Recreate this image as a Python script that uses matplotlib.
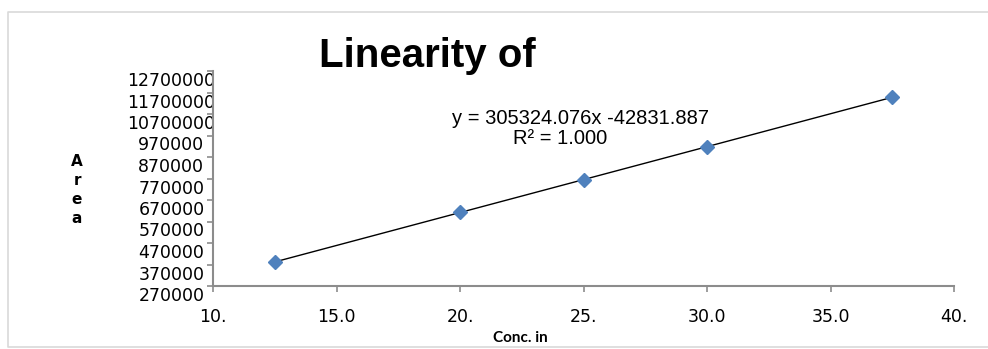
import matplotlib
matplotlib.use("Agg")
import matplotlib.pyplot as plt
import matplotlib.transforms as mtransforms
import numpy as np

# data
conc = [12.5, 20.0, 25.0, 30.0, 37.5]
area = [3816000, 6142000, 7630000, 9165000, 11490000]

x_ticks = [10, 15, 20, 25, 30, 35, 40]
x_labels = ["10.", "15.0", "20.", "25.", "30.0", "35.0", "40."]
y_ticks = [2700000, 3700000, 4700000, 5700000, 6700000, 7700000,
           8700000, 9700000, 10700000, 11700000, 12700000]
y_labels = ["270000", "370000", "470000", "570000", "670000", "770000",
            "870000", "970000", "10700000", "11700000", "12700000"]

title = "Linearity of"
eq_text = "y = 305324.076x -42831.887"
r2_text = "R² = 1.000"

W, H = 988, 349
fig = plt.figure(figsize=(W / 100, H / 100), dpi=100)
ax = fig.add_axes([213 / W, (H - 286) / H, (954 - 213) / W, (286 - 71) / H])

ax.plot(conc, area, linestyle="none", marker="D", markersize=7,
        color="#4F81BD", zorder=3)

# linear trendline over the data range
k, b = np.polyfit(conc, area, 1)
xs = np.array([min(conc), max(conc)])
ax.plot(xs, k * xs + b, color="black", linewidth=1, zorder=2)

ax.set_xlim(10, 40)
ax.set_ylim(2700000, 12700000)
ax.set_xticks(x_ticks)
ax.set_xticklabels(x_labels)
ax.set_yticks(y_ticks)
ax.set_yticklabels(y_labels)

for side in ["top", "right"]:
    ax.spines[side].set_visible(False)
for side in ["left", "bottom"]:
    ax.spines[side].set_color("#8C8C8C")
    ax.spines[side].set_linewidth(1.5)

ax.tick_params(axis="both", colors="#8C8C8C", length=4, width=1.2,
               labelcolor="black", labelsize=12.5)
ax.tick_params(axis="x", pad=12)
ax.tick_params(axis="y", pad=26)

# y labels are centred on a column and sit a little below their ticks
shift = mtransforms.ScaledTranslation(0, -0.08, fig.dpi_scale_trans)
for lbl in ax.get_yticklabels():
    lbl.set_horizontalalignment("center")
    lbl.set_transform(lbl.get_transform() + shift)

fig.text(427 / W, (H - 67) / H, title, ha="center", va="baseline",
         fontsize=29, fontweight="bold", family="Liberation Sans")
fig.text(580 / W, (H - 119) / H, eq_text, ha="center", va="center",
         fontsize=14.5, family="Liberation Sans")
fig.text(560 / W, (H - 138) / H, r2_text, ha="center", va="center",
         fontsize=14.5, family="Liberation Sans")

fig.text(77 / W, (H - 190) / H, "A\nr\ne\na", ha="center", va="center",
         fontsize=11, fontweight="bold", linespacing=1.35)
fig.text(520 / W, (H - 331) / H, "Conc. in", ha="center", va="top",
         fontsize=11, fontweight="bold", family="Lato")

# light grey chart border
bx = [W + 5, 8, 8, W + 5]
by = [12, 12, 347, 347]
fig.add_artist(plt.Line2D([v / W for v in bx], [(H - v) / H for v in by],
                          color="#D9D9D9", linewidth=1.2))

fig.savefig("out.png", dpi=100, facecolor="white")
